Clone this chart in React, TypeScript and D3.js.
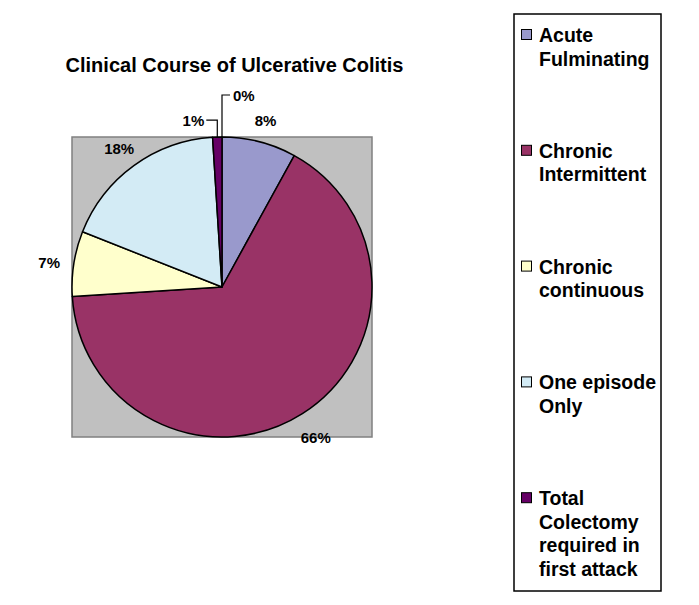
import React from "react";
import * as d3 from "d3";

const title = "Clinical Course of Ulcerative Colitis";
const categories = [
  "Acute Fulminating",
  "Chronic Intermittent",
  "Chronic continuous",
  "One episode Only",
  "Total Colectomy required in first attack",
  "",
];
const legendLines = [
  ["Acute", "Fulminating"],
  ["Chronic", "Intermittent"],
  ["Chronic", "continuous"],
  ["One episode", "Only"],
  ["Total", "Colectomy", "required in", "first attack"],
];
const values = [8, 66, 7, 18, 1, 0];
const colors = ["#9999CC", "#993366", "#FFFFCC", "#D3EBF5", "#660066", "#9999CC"];

const W = 699;
const H = 605;
const FONT = "'Liberation Sans', Arial, Helvetica, sans-serif";

export default function App() {
  const cx = 222;
  const cy = 287;
  const R = 150;
  const total = d3.sum(values);
  const pie = d3.pie<number>().sort(null).value((d) => d).startAngle(0).endAngle(2 * Math.PI);
  const arcs = pie(values);
  const arc = d3.arc<d3.PieArcDatum<number>>().innerRadius(0).outerRadius(R);
  const fmt = (v: number) => `${Math.round((v / total) * 100)}%`;

  const labelR = 175;
  const pt = (a: number, r: number) => [r * Math.sin(a), -r * Math.cos(a)];

  const legendX = 514;
  const legendY = 14;
  const legendW = 147;
  const legendH = 577;
  const itemStart = 42;
  const itemStep = 115.8;
  const lineH = 23.5;

  return (
    <svg
      width={W}
      height={H}
      style={{ position: "absolute", left: 0, top: 0, background: "#fff" }}
      fontFamily={FONT}
    >
      <rect x={0} y={0} width={W} height={H} fill="#fff" />
      <text x={234.5} y={71.5} textAnchor="middle" fontSize={20} fontWeight="bold" fill="#000">
        {title}
      </text>
      <rect x={cx - R} y={cy - R} width={2 * R} height={2 * R} fill="#C0C0C0" stroke="#808080" strokeWidth={1.5} />
      <g transform={`translate(${cx},${cy})`}>
        {arcs.map((a, i) =>
          a.value > 0 ? (
            <path key={i} d={arc(a) || ""} fill={colors[i]} stroke="#000" strokeWidth={1.5} strokeLinejoin="round" />
          ) : null
        )}
        {arcs.map((a, i) => {
          const mid = (a.startAngle + a.endAngle) / 2;
          const label = fmt(a.value);
          if (a.value / total < 0.03) {
            const [ax, ay] = pt(mid, R);
            const up = a.value > 0 ? 17 : 42;
            const side = a.value > 0 ? -11 : 8;
            const ey = ay - up;
            const ex = ax + side;
            return (
              <g key={i}>
                <polyline points={`${ax},${ay} ${ax},${ey} ${ex},${ey}`} fill="none" stroke="#000" strokeWidth={1.2} />
                <text
                  x={ex + (side < 0 ? -2 : 3)}
                  y={ey + 6}
                  textAnchor={side < 0 ? "end" : "start"}
                  fontSize={15}
                  fontWeight="bold"
                  fill="#000"
                >
                  {label}
                </text>
              </g>
            );
          }
          const [lx, ly] = pt(mid, labelR);
          return (
            <text key={i} x={lx} y={ly} dy="0.55em" textAnchor="middle" fontSize={15} fontWeight="bold" fill="#000">
              {label}
            </text>
          );
        })}
      </g>
      <rect x={legendX} y={legendY} width={legendW} height={legendH} fill="#fff" stroke="#000" strokeWidth={1.5} />
      {legendLines.map((lines, i) => {
        const by = itemStart + i * itemStep;
        return (
          <g key={i}>
            <rect x={521.5} y={by - 12.5} width={10} height={10} fill={colors[i]} stroke="#000" strokeWidth={1} />
            {lines.map((l, j) => (
              <text key={j} x={539} y={by + j * lineH} fontSize={19.5} fontWeight="bold" fill="#000">
                {l}
              </text>
            ))}
          </g>
        );
      })}
    </svg>
  );
}
